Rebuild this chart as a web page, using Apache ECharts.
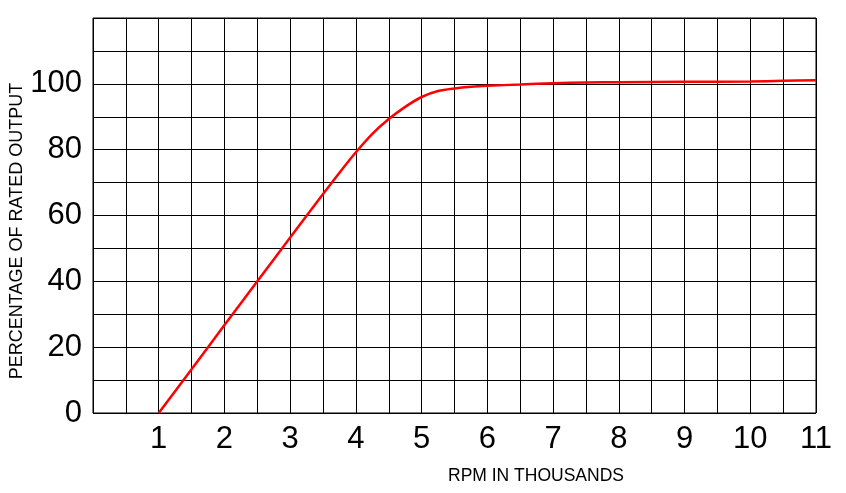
<!DOCTYPE html>
<html>
<head>
<meta charset="utf-8">
<script src="https://cdn.jsdelivr.net/npm/echarts@6/dist/echarts.min.js"></script>
<style>html,body{margin:0;padding:0;background:#fff}#c{width:846px;height:493px}</style>
</head>
<body>
<div id="c"></div>
<script>
const rpm = [1, 1.5, 2, 2.5, 3, 3.5, 3.75, 4, 4.25, 4.5, 4.75, 5, 5.25, 5.5, 5.75, 6, 6.5, 7, 7.5, 8, 9, 10, 10.5, 11];
const output = [0, 13.3, 26.7, 40, 53.3, 66.5, 73, 79.2, 84.8, 89.3, 93, 96, 97.8, 98.6, 99.1, 99.4, 99.8, 100.2, 100.4, 100.5, 100.6, 100.7, 100.9, 101.1];
const yTickLabels = [0, 20, 40, 60, 80, 100];
const xTickLabels = [1, 2, 3, 4, 5, 6, 7, 8, 9, 10, 11];
const xTitle = 'RPM IN THOUSANDS';
const yTitle = 'PERCENTAGE OF RATED OUTPUT';

const chart = echarts.init(document.getElementById('c'), null, {renderer: 'canvas'});
const font = 'Liberation Sans';
chart.setOption({
  animation: false,
  backgroundColor: '#fff',
  grid: {left: 93, right: 30, top: 18, bottom: 80, show: true, borderColor: '#000', borderWidth: 1},
  xAxis: {
    type: 'value', min: 0, max: 11, interval: 0.5,
    axisLine: {show: false}, axisTick: {show: false},
    splitLine: {show: true, lineStyle: {color: '#000', width: 1}},
    axisLabel: {
      margin: 11, color: '#000', fontFamily: font, fontSize: 31,
      formatter: v => xTickLabels.includes(v) ? String(v) : ''
    }
  },
  yAxis: {
    type: 'value', min: 0, max: 120, interval: 10,
    axisLine: {show: false}, axisTick: {show: false},
    splitLine: {show: true, lineStyle: {color: '#000', width: 1}},
    axisLabel: {
      margin: 11, color: '#000', fontFamily: font, fontSize: 31,
      formatter: v => yTickLabels.includes(v) ? String(v) : ''
    }
  },
  graphic: [
    {type: 'text', left: 448, top: 467, style: {text: xTitle, fill: '#000', font: '17.5px "Liberation Sans"'}},
    {type: 'text', x: 17, y: 231, rotation: Math.PI / 2,
      style: {text: yTitle, fill: '#000', font: '18px "Liberation Sans"', align: 'center', verticalAlign: 'middle'}}
  ],
  series: [{
    type: 'line', data: rpm.map((x, i) => [x, output[i]]),
    smooth: 0.3, symbol: 'none',
    lineStyle: {color: '#ff0000', width: 2.5}
  }]
});
</script>
</body>
</html>
